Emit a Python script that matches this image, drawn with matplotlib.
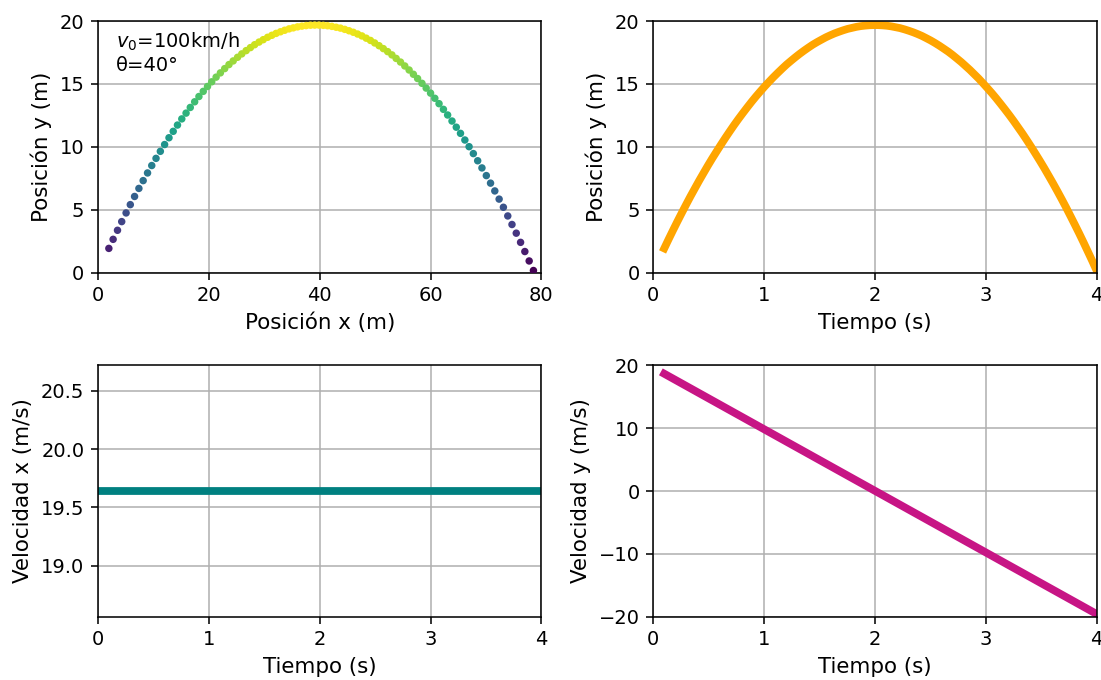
import matplotlib
matplotlib.use("Agg")
import matplotlib.pyplot as plt

# tiempos de la trayectoria (s)
t = [0.100, 0.139, 0.179, 0.218, 0.258, 0.297, 0.336, 0.376, 0.415, 0.455,
     0.494, 0.533, 0.573, 0.612, 0.652, 0.691, 0.730, 0.770, 0.809, 0.848,
     0.888, 0.927, 0.967, 1.006, 1.045, 1.085, 1.124, 1.164, 1.203, 1.242,
     1.282, 1.321, 1.361, 1.400, 1.439, 1.479, 1.518, 1.558, 1.597, 1.636,
     1.676, 1.715, 1.755, 1.794, 1.833, 1.873, 1.912, 1.952, 1.991, 2.030,
     2.070, 2.109, 2.148, 2.188, 2.227, 2.267, 2.306, 2.345, 2.385, 2.424,
     2.464, 2.503, 2.542, 2.582, 2.621, 2.661, 2.700, 2.739, 2.779, 2.818,
     2.858, 2.897, 2.936, 2.976, 3.015, 3.055, 3.094, 3.133, 3.173, 3.212,
     3.252, 3.291, 3.330, 3.370, 3.409, 3.448, 3.488, 3.527, 3.567, 3.606,
     3.645, 3.685, 3.724, 3.764, 3.803, 3.842, 3.882, 3.921, 3.961, 4.000]

# posicion x (m)
x = [1.96, 2.73, 3.52, 4.28, 5.07, 5.83, 6.60, 7.38, 8.15, 8.94,
     9.70, 10.47, 11.25, 12.02, 12.81, 13.57, 14.34, 15.12, 15.89, 16.65,
     17.44, 18.21, 18.99, 19.76, 20.52, 21.31, 22.08, 22.86, 23.63, 24.39,
     25.18, 25.94, 26.73, 27.50, 28.26, 29.05, 29.81, 30.60, 31.37, 32.13,
     32.92, 33.68, 34.47, 35.23, 36.00, 36.79, 37.55, 38.34, 39.10, 39.87,
     40.65, 41.42, 42.19, 42.97, 43.74, 44.52, 45.29, 46.06, 46.84, 47.61,
     48.39, 49.16, 49.92, 50.71, 51.48, 52.26, 53.03, 53.79, 54.58, 55.35,
     56.13, 56.90, 57.66, 58.45, 59.21, 60.00, 60.77, 61.53, 62.32, 63.08,
     63.87, 64.64, 65.40, 66.19, 66.95, 67.72, 68.50, 69.27, 70.06, 70.82,
     71.59, 72.37, 73.14, 73.93, 74.69, 75.46, 76.24, 77.01, 77.79, 78.56]

# posicion y (m)
y = [1.92, 2.64, 3.36, 4.05, 4.74, 5.40, 6.05, 6.69, 7.31, 7.92,
     8.51, 9.08, 9.64, 10.18, 10.72, 11.23, 11.73, 12.22, 12.68, 13.13,
     13.58, 14.00, 14.41, 14.80, 15.17, 15.54, 15.88, 16.22, 16.54, 16.83,
     17.12, 17.39, 17.65, 17.89, 18.12, 18.33, 18.52, 18.71, 18.87, 19.02,
     19.15, 19.27, 19.38, 19.46, 19.54, 19.60, 19.64, 19.67, 19.68, 19.68,
     19.66, 19.63, 19.58, 19.51, 19.44, 19.34, 19.23, 19.11, 18.97, 18.82,
     18.64, 18.46, 18.26, 18.04, 17.81, 17.57, 17.31, 17.03, 16.74, 16.43,
     16.11, 15.77, 15.43, 15.05, 14.67, 14.27, 13.86, 13.43, 12.98, 12.53,
     12.05, 11.56, 11.07, 10.54, 10.01, 9.46, 8.89, 8.32, 7.71, 7.11,
     6.49, 5.84, 5.19, 4.50, 3.82, 3.13, 2.40, 1.67, 0.92, 0.16]

# velocidades
t_vx = [0.0, 4.0]
vx = [19.64, 19.64]
t_vy = [0.1, 4.0]
vy = [18.66, -19.56]

plt.rcParams['axes.labelsize'] = 11

fig, axs = plt.subplots(2, 2, figsize=(1101/140, 680/140), dpi=140)
plt.subplots_adjust(left=0.089, right=0.996, top=0.969, bottom=0.093,
                    wspace=0.252, hspace=0.369)

ax = axs[0, 0]
ax.scatter(x, y, c=y, cmap='viridis', s=8, zorder=3)
ax.set_xlim(0, 80)
ax.set_ylim(0, 20)
ax.set_xlabel("Posición x (m)")
ax.set_ylabel("Posición y (m)")
ax.text(0.04, 0.96, "$v_0$=100km/h\nθ=40°", transform=ax.transAxes,
        va='top', ha='left')
ax.grid()

ax = axs[0, 1]
ax.plot(t, y, color='orange', lw=4)
ax.set_xlim(0, 4)
ax.set_ylim(0, 20)
ax.set_xlabel("Tiempo (s)")
ax.set_ylabel("Posición y (m)")
ax.grid()

ax = axs[1, 0]
ax.plot(t_vx, vx, color='teal', lw=4)
ax.set_xlim(0, 4)
ax.set_xlabel("Tiempo (s)")
ax.set_ylabel("Velocidad x (m/s)")
ax.grid()

ax = axs[1, 1]
ax.plot(t_vy, vy, color='mediumvioletred', lw=4)
ax.set_xlim(0, 4)
ax.set_ylim(-20, 20)
ax.set_xlabel("Tiempo (s)")
ax.set_ylabel("Velocidad y (m/s)")
ax.grid()

plt.savefig("out.png")
